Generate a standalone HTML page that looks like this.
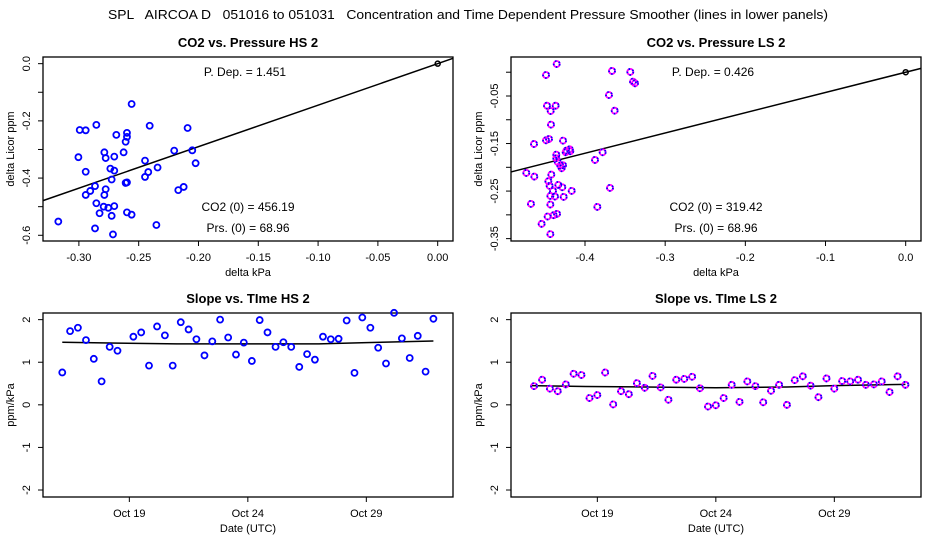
<!DOCTYPE html>
<html><head><meta charset="utf-8"><style>
body{margin:0;background:#fff;}
svg{display:block;font-family:"Liberation Sans",sans-serif;}
</style></head><body>
<svg id="c" width="936" height="540" viewBox="0 0 936 540">
<text x="468" y="19" text-anchor="middle" font-size="13" style="white-space:pre" xml:space="preserve" textLength="720" lengthAdjust="spacingAndGlyphs">SPL   AIRCOA D   051016 to 051031   Concentration and Time Dependent Pressure Smoother (lines in lower panels)</text>
</svg>
<script>
// ---- Data: top-left (HS 2) ----
const hsPress = [-0.2559,-0.2854,-0.2993,-0.2943,-0.2687,-0.2598,-0.2598,-0.2609,-0.2408,-0.2091,-0.3004,-0.2787,-0.2776,-0.2704,-0.2626,-0.2203,-0.2052,-0.2024,-0.2447,-0.2342,-0.2943,-0.2737,-0.2704,-0.2726,-0.2420,-0.2447,-0.2609,-0.2598,-0.2865,-0.2776,-0.2905,-0.2943,-0.2787,-0.2169,-0.2124,-0.2854,-0.2793,-0.2754,-0.2704,-0.2827,-0.2598,-0.2559,-0.2726,-0.3172,-0.2865,-0.2352,-0.2715];
const hsCO2 = [-0.141,-0.214,-0.232,-0.233,-0.249,-0.242,-0.256,-0.273,-0.217,-0.225,-0.327,-0.310,-0.330,-0.325,-0.310,-0.304,-0.303,-0.348,-0.339,-0.363,-0.378,-0.367,-0.374,-0.405,-0.379,-0.396,-0.417,-0.415,-0.428,-0.439,-0.445,-0.459,-0.459,-0.442,-0.431,-0.488,-0.500,-0.504,-0.498,-0.523,-0.520,-0.528,-0.532,-0.552,-0.576,-0.564,-0.597];
const hsSlope = 1.451;
// ---- Data: top-right (LS 2) ----
const lsPress = [-0.4353,-0.4486,-0.3663,-0.3435,-0.3401,-0.3376,-0.3701,-0.3630,-0.4474,-0.4366,-0.4428,-0.4424,-0.4636,-0.4486,-0.4449,-0.4274,-0.4358,-0.4358,-0.4341,-0.4233,-0.4191,-0.4183,-0.4241,-0.3780,-0.3875,-0.4308,-0.4274,-0.4291,-0.4732,-0.4632,-0.4420,-0.4457,-0.4441,-0.4333,-0.4283,-0.4399,-0.4374,-0.4166,-0.4266,-0.3688,-0.4432,-0.4432,-0.4674,-0.3846,-0.4466,-0.4391,-0.4349,-0.4541,-0.4432];
const lsCO2 = [0.0173,-0.0058,0.0027,0.0006,-0.0198,-0.0233,-0.0479,-0.0809,-0.0704,-0.0704,-0.0816,-0.1103,-0.1509,-0.1432,-0.1404,-0.1439,-0.1733,-0.1810,-0.1887,-0.1649,-0.1621,-0.1663,-0.1684,-0.1684,-0.1845,-0.1964,-0.1957,-0.2020,-0.2118,-0.2195,-0.2153,-0.2293,-0.2391,-0.2370,-0.2419,-0.2496,-0.2615,-0.2496,-0.2622,-0.2433,-0.2601,-0.2783,-0.2769,-0.2832,-0.3035,-0.3007,-0.2979,-0.3189,-0.3406];
const lsSlope = 0.426;
// ---- Data: bottom panels (days in October) ----
const daysHS = [16.17,16.5,16.83,17.17,17.5,17.83,18.17,18.5,19.17,19.5,19.83,20.17,20.5,20.83,21.17,21.5,21.83,22.17,22.5,22.83,23.17,23.5,23.83,24.17,24.5,24.83,25.17,25.5,25.83,26.17,26.5,26.83,27.17,27.5,27.83,28.17,28.5,28.83,29.17,29.5,29.83,30.17,30.5,30.83,31.17,31.5,31.83];
const slopeHS = [0.76,1.73,1.81,1.52,1.08,0.55,1.36,1.27,1.60,1.70,0.92,1.84,1.63,0.92,1.94,1.77,1.54,1.16,1.49,2.00,1.58,1.18,1.46,1.03,1.99,1.70,1.36,1.47,1.36,0.89,1.19,1.06,1.60,1.54,1.55,1.98,0.75,2.05,1.81,1.34,0.97,2.16,1.56,1.10,1.62,0.78,2.02];
const daysLS = [16.33,16.67,17,17.33,17.67,18,18.33,18.67,19,19.33,19.67,20,20.33,20.67,21,21.33,21.67,22,22.33,22.67,23,23.33,23.67,24,24.33,24.67,25,25.33,25.67,26,26.33,26.67,27,27.33,27.67,28,28.33,28.67,29,29.33,29.67,30,30.33,30.67,31,31.33,31.67,32];
const slopeLS = [0.44,0.59,0.38,0.32,0.48,0.73,0.70,0.16,0.23,0.76,0.01,0.32,0.25,0.51,0.40,0.68,0.41,0.12,0.59,0.61,0.66,0.39,-0.04,-0.01,0.16,0.47,0.07,0.55,0.44,0.06,0.33,0.47,0.00,0.58,0.67,0.45,0.18,0.62,0.38,0.56,0.55,0.59,0.47,0.48,0.55,0.30,0.67,0.47];
const smoothDays = [16.17,18.5,21,24,27,29,32];
const smoothHS = [1.47,1.45,1.43,1.43,1.43,1.46,1.50];
const smoothLS = [0.45,0.43,0.42,0.40,0.42,0.45,0.48];
const bottomTicks = [19,24,29];
const bottomTickLabels = ["Oct 19","Oct 24","Oct 29"];

const svg=document.getElementById('c');
const NS='http://www.w3.org/2000/svg';
function mk(tag,attrs,parent){const e=document.createElementNS(NS,tag);for(const k in attrs)e.setAttribute(k,attrs[k]);(parent||svg).appendChild(e);return e;}
function txt(x,y,s,size,anchor,parent,rot){const t=mk('text',{x:x,y:y,'font-size':size,'text-anchor':anchor||'middle'},parent);if(rot)t.setAttribute('transform','rotate(-90 '+x+' '+y+')');t.textContent=s;return t;}

function panel(o){
  const g=mk('g',{});
  
  
  const X=v=>o.x0+(v-o.xmin)/(o.xmax-o.xmin)*(o.x1-o.x0);
  const Y=v=>o.y1-(v-o.ymin)/(o.ymax-o.ymin)*(o.y1-o.y0);
  const fr=mk('rect',{x:o.x0,y:o.y0,width:o.x1-o.x0,height:o.y1-o.y0,fill:'none',stroke:'#000','stroke-width':1.3},g);
  
  
  const tt=txt((o.x0+o.x1)/2,o.y0-10,o.title,13,'middle',g);
  tt.setAttribute('font-weight','bold');
  
  
  o.yticks.forEach(v=>{const y=Y(v);mk('line',{x1:o.x0,x2:o.x0-5,y1:y,y2:y,stroke:'#000'},g);});
  o.ylabels.forEach(v=>{const t=txt(o.x0-13,Y(v),o.yfmt(v),11,'middle',g,true);
    
    });
  o.xticks.forEach((v,i)=>{const x=X(v);mk('line',{x1:x,x2:x,y1:o.y1,y2:o.y1+5,stroke:'#000'},g);
    const t=txt(x,o.y1+20,o.xlabels[i],11,'middle',g);
    
    });
  const xl=txt((o.x0+o.x1)/2,o.y1+35,o.xtitle,11,'middle',g);
  
  
  const yl=txt(o.x0-29,(o.y0+o.y1)/2,o.ytitle,11,'middle',g,true);
  
  
  return {g,X,Y};
}
function dot(g,x,y,ls){
  const c=mk('circle',{cx:x,cy:y,r:3,fill:'none',stroke:ls?'#f0f':'#00f','stroke-width':1.8},g);
  
  
  if(ls){mk('circle',{cx:x,cy:y,r:3,fill:'none',stroke:'#00f','stroke-width':1.8,'stroke-dasharray':'1.5 2.5'},g);}
}

(function(){
  const p=panel({name:'panel-co2-pressure-hs',x0:43,x1:453,y0:57,y1:241,xmin:-0.330,xmax:0.0128,ymin:-0.620,ymax:0.0233,
    title:'CO2 vs. Pressure HS 2',xtitle:'delta kPa',ytitle:'delta Licor ppm',
    yticks:[0,-0.1,-0.2,-0.3,-0.4,-0.5,-0.6],ylabels:[0,-0.2,-0.4,-0.6],yfmt:v=>v===0?'0.0':v.toFixed(1),
    xticks:[-0.30,-0.25,-0.20,-0.15,-0.10,-0.05,0],xlabels:['-0.30','-0.25','-0.20','-0.15','-0.10','-0.05','0.00']});
  const l=mk('line',{x1:p.X(-0.330),y1:p.Y(-0.330*hsSlope),x2:p.X(0.0128),y2:p.Y(0.0128*hsSlope),stroke:'#000','stroke-width':1.5},p.g);
  
  
  hsPress.forEach((v,i)=>dot(p.g,p.X(v),p.Y(hsCO2[i]),false));
  mk('circle',{cx:p.X(0),cy:p.Y(0),r:2.5,fill:'none',stroke:'#000','stroke-width':1.5},p.g);
  txt(245,76,'P. Dep. =  '+hsSlope.toFixed(3),12,'middle',p.g);
  txt(248,211,'CO2 (0) =  456.19',12,'middle',p.g);
  txt(248,232,'Prs. (0) =  68.96',12,'middle',p.g);
})();
(function(){
  const p=panel({name:'panel-co2-pressure-ls',x0:511,x1:921,y0:57,y1:241,xmin:-0.4923,xmax:0.0191,ymin:-0.355,ymax:0.032,
    title:'CO2 vs. Pressure LS 2',xtitle:'delta kPa',ytitle:'delta Licor ppm',
    yticks:[0,-0.05,-0.1,-0.15,-0.2,-0.25,-0.3,-0.35],ylabels:[-0.05,-0.15,-0.25,-0.35],yfmt:v=>v.toFixed(2),
    xticks:[-0.4,-0.3,-0.2,-0.1,0],xlabels:['-0.4','-0.3','-0.2','-0.1','0.0']});
  const l=mk('line',{x1:p.X(-0.4923),y1:p.Y(-0.4923*lsSlope),x2:p.X(0.0191),y2:p.Y(0.0191*lsSlope),stroke:'#000','stroke-width':1.5},p.g);
  
  
  lsPress.forEach((v,i)=>dot(p.g,p.X(v),p.Y(lsCO2[i]),true));
  mk('circle',{cx:p.X(0),cy:p.Y(0),r:2.5,fill:'none',stroke:'#000','stroke-width':1.5},p.g);
  txt(713,76,'P. Dep. =  '+lsSlope.toFixed(3),12,'middle',p.g);
  txt(716,211,'CO2 (0) =  319.42',12,'middle',p.g);
  txt(716,232,'Prs. (0) =  68.96',12,'middle',p.g);
})();
[[0,'panel-slope-time-hs','Slope vs. TIme HS 2',daysHS,slopeHS,smoothHS,false],
 [468,'panel-slope-time-ls','Slope vs. TIme LS 2',daysLS,slopeLS,smoothLS,true]].forEach(d=>{
  const p=panel({name:d[1],x0:43+d[0],x1:453+d[0],y0:313,y1:497,xmin:15.357,xmax:32.657,ymin:-2.164,ymax:2.156,
    title:d[2],xtitle:'Date (UTC)',ytitle:'ppm/kPa',
    yticks:[2,1,0,-1,-2],ylabels:[2,1,0,-1,-2],yfmt:v=>String(v),
    xticks:bottomTicks,xlabels:bottomTickLabels});
  const pts=smoothDays.map((v,i)=>p.X(Math.min(v,d[3][d[3].length-1]))+','+p.Y(d[5][i])).join(' ');
  const l=mk('polyline',{points:pts,fill:'none',stroke:'#000','stroke-width':1.5},p.g);
  
  
  d[3].forEach((v,i)=>dot(p.g,p.X(v),p.Y(d[4][i]),d[6]));
});
</script>
</body></html>
